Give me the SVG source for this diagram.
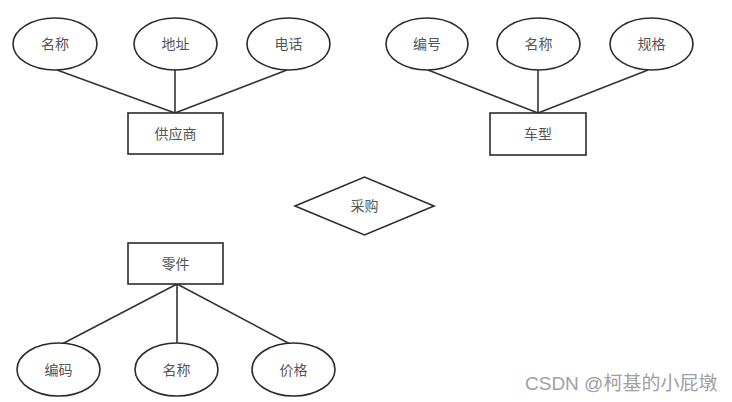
<svg xmlns="http://www.w3.org/2000/svg" width="732" height="402" viewBox="0 0 732 402">
<style>
.s{fill:#fff;stroke:#2b2b2b;stroke-width:1.6}
.c{stroke:#333;stroke-width:1.6;fill:none}
.t{font-family:"Liberation Sans","Noto Sans CJK SC",sans-serif;font-size:14px;fill:#555;text-anchor:middle;dominant-baseline:central}
.w{font-family:"Liberation Sans","Noto Sans CJK SC",sans-serif;font-size:19px;fill:#a0a0a0}
</style>
<rect width="732" height="402" fill="#fff"/>
<g id="connectors">
<line class="c" x1="57" y1="70" x2="175" y2="113"/>
<line class="c" x1="175" y1="70" x2="175" y2="113"/>
<line class="c" x1="287" y1="70" x2="175" y2="113"/>
<line class="c" x1="428" y1="70" x2="538" y2="113"/>
<line class="c" x1="538" y1="70" x2="538" y2="113"/>
<line class="c" x1="648" y1="70" x2="538" y2="113"/>
<line class="c" x1="177" y1="284" x2="62" y2="344"/>
<line class="c" x1="177" y1="284" x2="177" y2="343"/>
<line class="c" x1="177" y1="284" x2="290" y2="344"/>
</g>
<g id="supplier"><rect class="s" x="128" y="113" width="95" height="41"/><text class="t" x="175.5" y="134">供应商</text></g>
<g id="s_name"><ellipse class="s" cx="55" cy="44" rx="42" ry="26"/><text class="t" x="55" y="44">名称</text></g>
<g id="s_addr"><ellipse class="s" cx="175.5" cy="44" rx="41.5" ry="26"/><text class="t" x="175.5" y="44">地址</text></g>
<g id="s_tel"><ellipse class="s" cx="288.5" cy="44" rx="41.5" ry="26"/><text class="t" x="288.5" y="44">电话</text></g>
<g id="model"><rect class="s" x="490" y="113" width="96" height="42"/><text class="t" x="538" y="134">车型</text></g>
<g id="m_no"><ellipse class="s" cx="427" cy="44" rx="41" ry="26"/><text class="t" x="427" y="44">编号</text></g>
<g id="m_name"><ellipse class="s" cx="538.5" cy="44" rx="41.5" ry="26"/><text class="t" x="538.5" y="44">名称</text></g>
<g id="m_spec"><ellipse class="s" cx="651.5" cy="44" rx="41.5" ry="26"/><text class="t" x="651.5" y="44">规格</text></g>
<g id="purchase"><polygon class="s" points="295,206 364.5,177 434,206 364.5,235"/><text class="t" x="364.5" y="206">采购</text></g>
<g id="part"><rect class="s" x="128" y="243" width="95" height="41"/><text class="t" x="175.5" y="264">零件</text></g>
<g id="p_code"><ellipse class="s" cx="58.5" cy="369.5" rx="41.5" ry="26.5"/><text class="t" x="58.5" y="370">编码</text></g>
<g id="p_name"><ellipse class="s" cx="176.5" cy="369.5" rx="41.5" ry="26.5"/><text class="t" x="176.5" y="370">名称</text></g>
<g id="p_price"><ellipse class="s" cx="293.5" cy="369.5" rx="41.5" ry="26.5"/><text class="t" x="293.5" y="370">价格</text></g>
<text class="w" x="525" y="390">CSDN @柯基的小屁墩</text>
</svg>
